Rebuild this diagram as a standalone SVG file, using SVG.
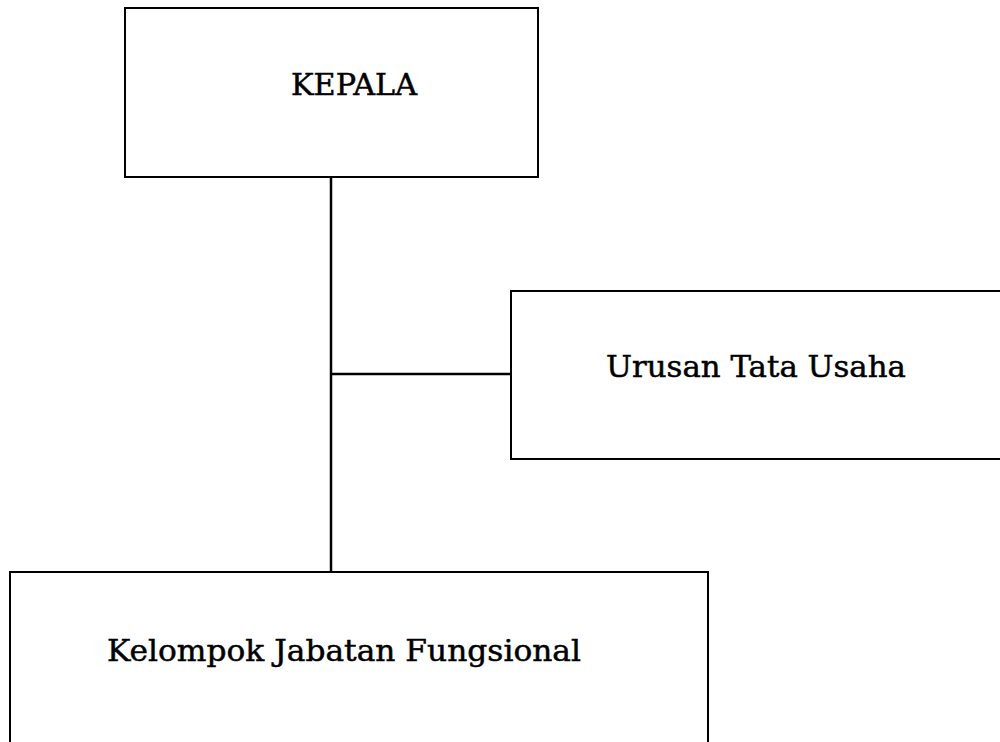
<svg xmlns="http://www.w3.org/2000/svg" width="1000" height="742" viewBox="0 0 1000 742">
<style>
.box{fill:#fff;stroke:#000;stroke-width:2}
.lbl{font-family:"DejaVu Serif","Liberation Serif",serif;font-size:30px;fill:#000;stroke:#000;stroke-width:0.5}
.conn{stroke:#000;stroke-width:2.5;fill:none}
</style>
<rect width="1000" height="742" fill="#fff"/>
<g id="connectors">
<line class="conn" x1="331" y1="177" x2="331" y2="572"/>
<line class="conn" x1="331" y1="374" x2="511" y2="374"/>
</g>
<g id="kepala">
<rect class="box" x="125" y="8" width="413" height="169"/>
<text class="lbl" x="291" y="95" textLength="126" lengthAdjust="spacingAndGlyphs">KEPALA</text>
</g>
<g id="urusan">
<rect class="box" x="511" y="291" width="500" height="168"/>
<text class="lbl" x="606" y="377" textLength="300" lengthAdjust="spacingAndGlyphs">Urusan Tata Usaha</text>
</g>
<g id="kelompok">
<rect class="box" x="10" y="572" width="698" height="180"/>
<text class="lbl" x="107" y="661" textLength="474" lengthAdjust="spacingAndGlyphs">Kelompok Jabatan Fungsional</text>
</g>
</svg>
